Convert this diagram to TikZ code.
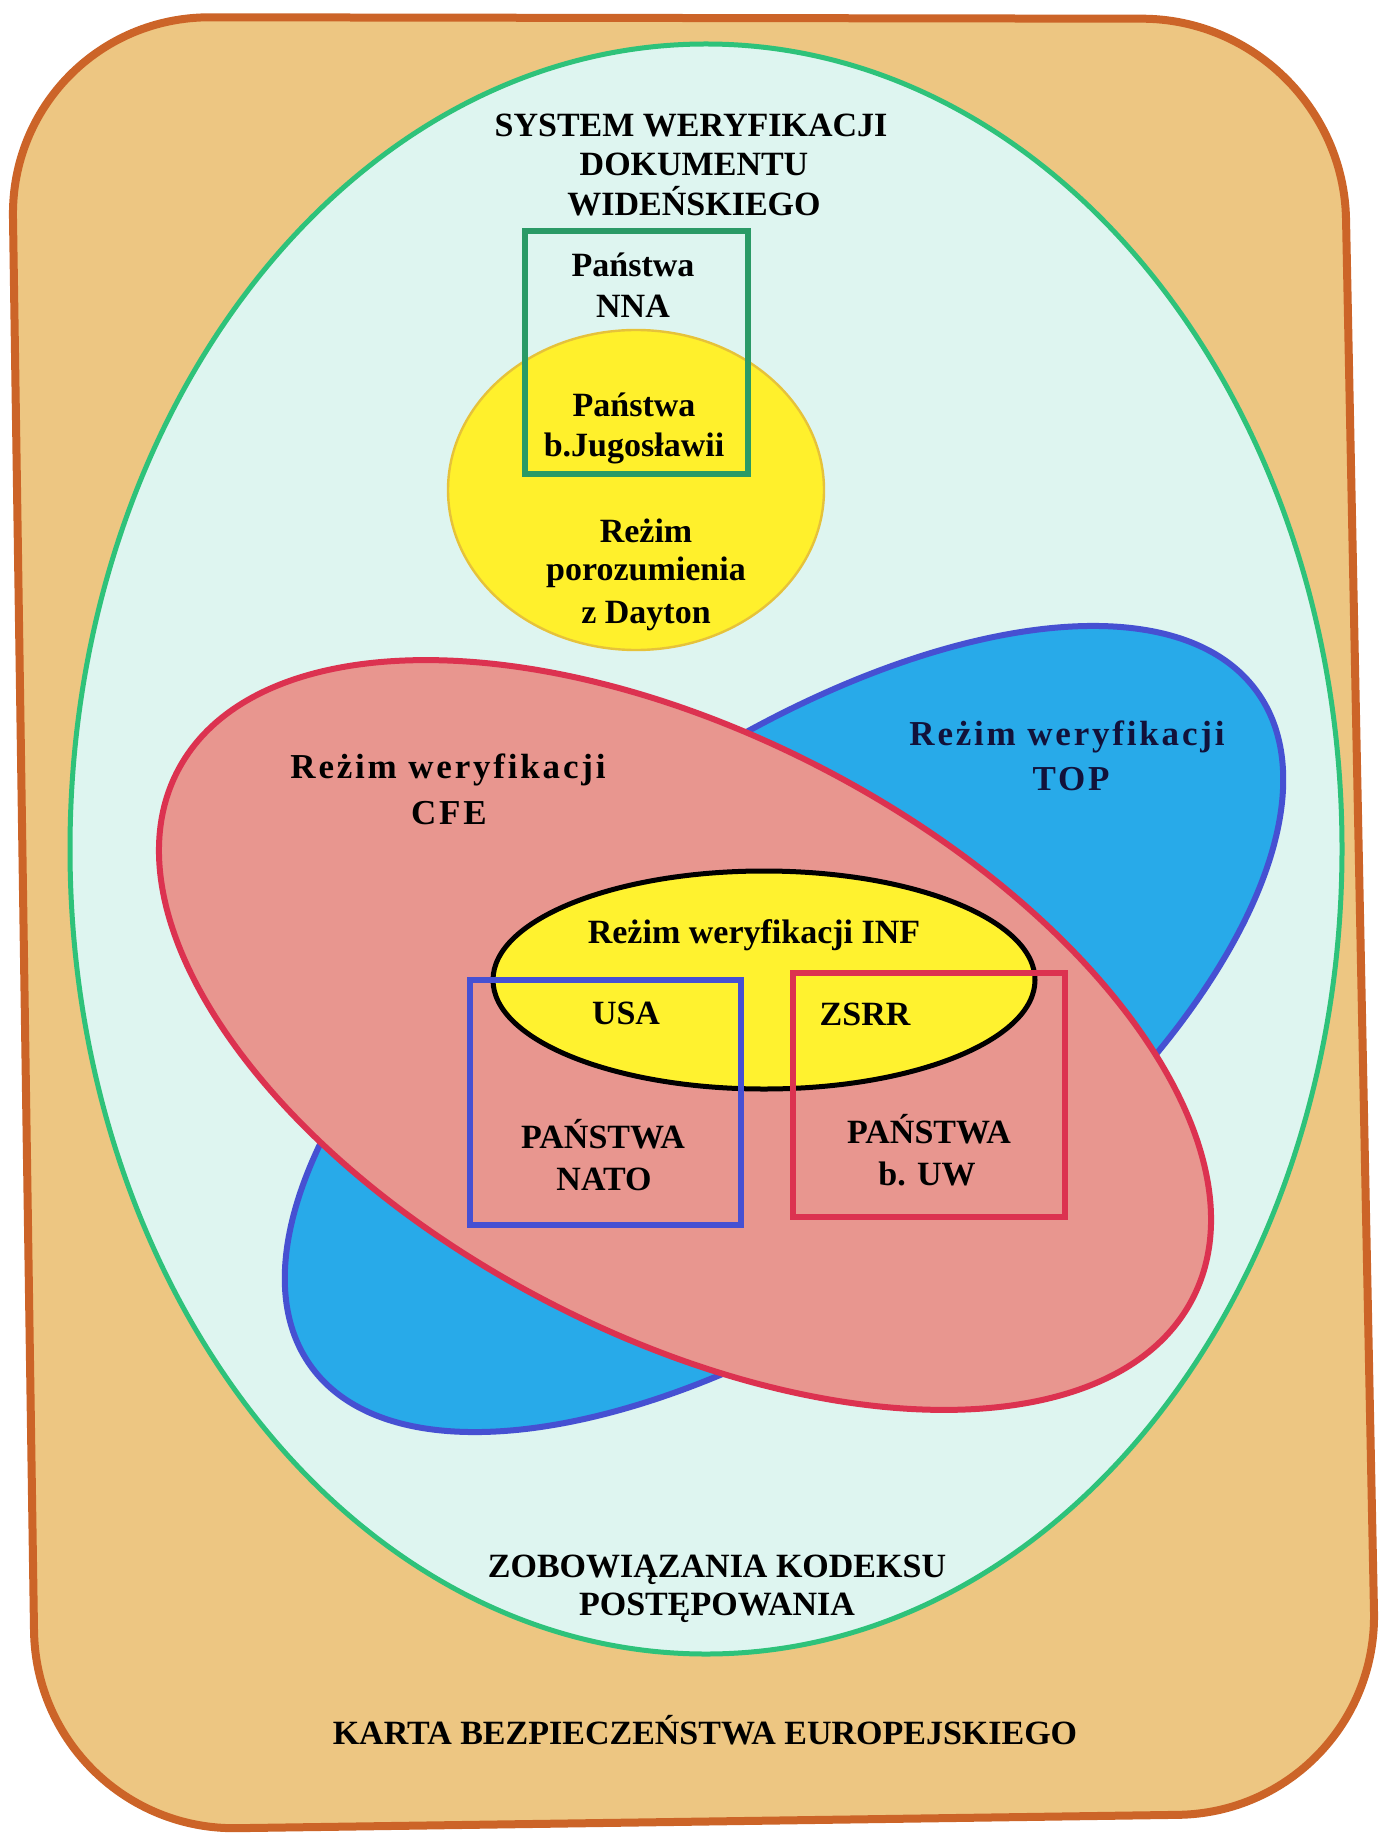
\documentclass[tikz,border=0pt]{standalone}
\usepackage{fontspec}
\setmainfont{Liberation Serif}
\definecolor{outerline}{HTML}{CC6428}
\definecolor{outerfill}{HTML}{EDC682}
\definecolor{greenline}{HTML}{2EC27A}
\definecolor{greenfill}{HTML}{DEF5F0}
\definecolor{nnaline}{HTML}{2A9A66}
\definecolor{dayfill}{HTML}{FFF02C}
\definecolor{dayline}{HTML}{E6C23A}
\definecolor{bluefill}{HTML}{28AAE9}
\definecolor{blueline}{HTML}{4650D2}
\definecolor{redfill}{HTML}{E8968F}
\definecolor{redline}{HTML}{DC3250}
\definecolor{inffill}{HTML}{FFF22F}
\definecolor{navytext}{HTML}{12123A}
\begin{document}
\begin{tikzpicture}[x=0.5pt,y=-0.5pt,
  lbl/.style={font=\bfseries\fontsize{17}{20}\selectfont, anchor=base, inner sep=0pt},
  widelbl/.style={font=\bfseries\fontsize{17.5}{21}\selectfont\addfontfeatures{LetterSpace=8}, anchor=base, inner sep=0pt},
  shapeline/.style={line width=3pt},
  boxline/.style={line width=3pt}]
\fill[white] (0,0) rectangle (1378,1839);
\useasboundingbox (0,0) rectangle (1378,1839);
% outer card
\draw[draw=outerline, line width=4pt, fill=outerfill, rounded corners=100pt]
  (10,17) -- (1342,19) -- (1378,1812) -- (37,1831) -- cycle;
% big green ellipse
\draw[draw=greenline, line width=2.5pt, fill=greenfill] (706,849) ellipse [x radius=636, y radius=805];
% Dayton ellipse
\draw[draw=dayline, line width=1.2pt, fill=dayfill] (636,490) ellipse [x radius=188, y radius=160];
% NNA box
\draw[draw=nnaline, boxline] (525,231) rectangle (748,474);
% TOP ellipse
\draw[draw=blueline, shapeline, fill=bluefill, rotate around={35.4:(784,1029)}]
  (784,1029) ellipse [x radius=581, y radius=272];
% CFE ellipse
\draw[draw=redline, shapeline, fill=redfill, rotate around={-27.5:(685,1035)}]
  (685,1035) ellipse [x radius=572, y radius=300];
% INF ellipse
\draw[draw=black, line width=2.5pt, fill=inffill] (764,980) ellipse [x radius=271, y radius=109];
% NATO / UW boxes
\draw[draw=blueline, boxline] (470,980) rectangle (741,1225);
\draw[draw=redline, boxline] (793,973) rectangle (1065,1217);
% texts
\node[lbl] (sys1) at (691,137) {SYSTEM WERYFIKACJI};
\node[lbl] (sys2) at (694,176) {DOKUMENTU};
\node[lbl] (sys3) at (694,216) {WIDEŃSKIEGO};
\node[lbl] (nna1) at (633,277) {Państwa};
\node[lbl] (nna2) at (633,318) {NNA};
\node[lbl] (jug1) at (634,417) {Państwa};
\node[lbl] (jug2) at (634,457) {b.Jugosławii};
\node[lbl] (day1) at (646,543) {Reżim};
\node[lbl] (day2) at (646,581) {porozumienia};
\node[lbl] (day3) at (646,623) {z Dayton};
\node[widelbl] (cfe1) at (448,778) {Reżim weryfikacji};
\node[widelbl] (cfe2) at (449,824) {CFE};
\node[widelbl, text=navytext] (top1) at (1067,745) {Reżim weryfikacji};
\node[widelbl, text=navytext] (top2) at (1071,790) {TOP};
\node[lbl] (inf) at (754,943) {Reżim weryfikacji INF};
\node[lbl] (usa) at (626,1024) {USA};
\node[lbl] (zsrr) at (865,1025) {ZSRR};
\node[lbl] (nato1) at (603,1148) {PAŃSTWA};
\node[lbl] (nato2) at (604,1190) {NATO};
\node[lbl] (uw1) at (929,1143) {PAŃSTWA};
\node[lbl] (uw2) at (927,1185) {b. UW};
\node[lbl] (kod1) at (717,1577) {ZOBOWIĄZANIA KODEKSU};
\node[lbl] (kod2) at (717,1615) {POSTĘPOWANIA};
\node[lbl] (karta) at (705,1744) {KARTA BEZPIECZEŃSTWA EUROPEJSKIEGO};
\end{tikzpicture}
\end{document}
